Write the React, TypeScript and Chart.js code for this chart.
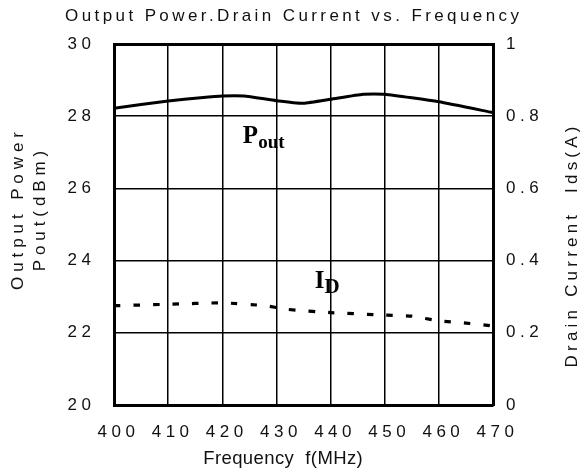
import { useEffect, useRef } from "react";
import { Chart, registerables } from "chart.js";

Chart.register(...registerables);

// ---------- text ----------
const chartTitle = "Output Power.Drain Current vs. Frequency";
const xAxisTitle = "Frequency  f(MHz)";
const leftAxisTitle = ["Output Power", "Pout(dBm)"];
const rightAxisTitle = "Drain Current  Ids(A)";

// ---------- ticks ----------
const frequencyTicks = [400, 410, 420, 430, 440, 450, 460, 470];
const powerTicks = [20, 22, 24, 26, 28, 30];
const currentTicks = [0, 0.2, 0.4, 0.6, 0.8, 1];

// ---------- series ----------
const poutFrequency = [400, 410, 416, 420, 424, 430, 435, 440, 446, 450, 460, 470];
const poutValues = [28.22, 28.42, 28.51, 28.56, 28.56, 28.43, 28.36, 28.47, 28.61, 28.61, 28.4, 28.1];

const idFrequency = [400, 410, 420, 428, 432, 440, 450, 455, 460, 465, 470];
const idValues = [0.275, 0.279, 0.283, 0.275, 0.265, 0.256, 0.249, 0.246, 0.233, 0.227, 0.219];

// curve labels, anchored in data coordinates (frequency, dBm)
const poutLabelAnchor = { x: 423.8, y: 27.26 };
const idLabelAnchor = { x: 437.1, y: 23.24 };

const SANS = '"Liberation Sans", Arial, Helvetica, sans-serif';
const SERIF = '"Liberation Serif", "Times New Roman", serif';
const INK = "#111";
const TICK_SPACING = 4.5;

function drawSpaced(
  ctx: CanvasRenderingContext2D,
  text: string,
  x: number,
  y: number,
  font: string,
  spacing: number,
  rotation: number
) {
  ctx.save();
  ctx.translate(x, y);
  ctx.rotate(rotation);
  ctx.font = font;
  (ctx as any).letterSpacing = "0px";
  const base = ctx.measureText(text).width;
  const w = base + (text.length - 1) * spacing;
  (ctx as any).letterSpacing = `${spacing}px`;
  ctx.fillStyle = INK;
  ctx.textAlign = "left";
  ctx.textBaseline = "alphabetic";
  ctx.fillText(text, -w / 2, 0);
  ctx.restore();
}

function drawSubscripted(
  ctx: CanvasRenderingContext2D,
  main: string,
  sub: string,
  x: number,
  y: number,
  mainSize: number,
  subSize: number,
  drop: number
) {
  ctx.save();
  (ctx as any).letterSpacing = "0px";
  ctx.fillStyle = "#000";
  ctx.textAlign = "left";
  ctx.textBaseline = "alphabetic";
  ctx.font = `bold ${mainSize}px ${SERIF}`;
  ctx.fillText(main, x, y);
  const mw = ctx.measureText(main).width;
  ctx.font = `bold ${subSize}px ${SERIF}`;
  ctx.fillText(sub, x + mw, y + drop);
  ctx.restore();
}

const textPlugin = {
  id: "textPlugin",
  beforeDraw(chart: any) {
    chart.ctx.letterSpacing = `${TICK_SPACING}px`;
  },
  afterDatasetsDraw(chart: any) {
    const { ctx, scales } = chart;
    drawSubscripted(
      ctx,
      "P",
      "out",
      scales.x.getPixelForValue(poutLabelAnchor.x),
      scales.y.getPixelForValue(poutLabelAnchor.y),
      25,
      19,
      5
    );
    drawSubscripted(
      ctx,
      "I",
      "D",
      scales.x.getPixelForValue(idLabelAnchor.x),
      scales.y.getPixelForValue(idLabelAnchor.y),
      25,
      21,
      5
    );
  },
  afterDraw(chart: any) {
    const { ctx } = chart;
    drawSpaced(ctx, chartTitle, 292, 20.5, `17px ${SANS}`, 3.4, 0);
    drawSpaced(ctx, xAxisTitle, 283, 464, `18.5px ${SANS}`, 0.4, 0);
    drawSpaced(ctx, leftAxisTitle[0], 22.5, 211, `17px ${SANS}`, 4.9, -Math.PI / 2);
    drawSpaced(ctx, leftAxisTitle[1], 45, 211, `17px ${SANS}`, 4.9, -Math.PI / 2);
    drawSpaced(ctx, rightAxisTitle, 577, 247, `17px ${SANS}`, 4.2, -Math.PI / 2);
    (ctx as any).letterSpacing = "0px";
  },
};

export default function App() {
  const canvasRef = useRef<HTMLCanvasElement | null>(null);

  useEffect(() => {
    const canvas = canvasRef.current;
    if (!canvas) return;

    const tickFont = { family: SANS, size: 17 };

    const chart = new Chart(canvas, {
      type: "line",
      data: {
        datasets: [
          {
            label: "Pout",
            data: poutFrequency.map((f, i) => ({ x: f, y: poutValues[i] })),
            yAxisID: "y",
            borderColor: "#000",
            borderWidth: 3,
            pointRadius: 0,
            tension: 0.15,
            fill: false,
          },
          {
            label: "ID",
            data: idFrequency.map((f, i) => ({ x: f, y: idValues[i] })),
            yAxisID: "y1",
            borderColor: "#000",
            borderWidth: 3.2,
            borderDash: [6.5, 13],
            borderCapStyle: "butt",
            pointRadius: 0,
            tension: 0.15,
            fill: false,
          },
        ],
      },
      options: {
        responsive: false,
        animation: false,
        devicePixelRatio: 1,
        layout: { padding: { top: 44, left: 0, right: 0, bottom: 0 } },
        plugins: {
          legend: { display: false },
          title: { display: false },
          tooltip: { enabled: false },
        },
        scales: {
          x: {
            type: "linear",
            min: 400,
            max: 470,
            afterBuildTicks: (scale: any) => {
              scale.ticks = frequencyTicks.map((value) => ({ value }));
            },
            afterFit: (scale: any) => {
              scale.height = 70;
            },
            grid: {
              color: "#000",
              lineWidth: 1.5,
              drawTicks: false,
            },
            border: { display: true, color: "#000", width: 3 },
            ticks: {
              font: tickFont,
              color: INK,
              padding: 17,
              maxRotation: 0,
              autoSkip: false,
              labelOffset: 4.5,
              callback: (v: any) => String(v),
            },
          },
          y: {
            type: "linear",
            position: "left",
            min: 20,
            max: 30,
            afterBuildTicks: (scale: any) => {
              scale.ticks = powerTicks.map((value) => ({ value }));
            },
            afterFit: (scale: any) => {
              scale.width = 114;
            },
            grid: {
              color: "#000",
              lineWidth: (c: any) => (c.tick && c.tick.value === 30 ? 3 : 1.5),
              drawTicks: false,
            },
            border: { display: true, color: "#000", width: 3 },
            ticks: {
              font: tickFont,
              color: INK,
              padding: 18.5,
              callback: (v: any) => String(v),
            },
          },
          y1: {
            type: "linear",
            position: "right",
            min: 0,
            max: 1,
            afterBuildTicks: (scale: any) => {
              scale.ticks = currentTicks.map((value) => ({ value }));
            },
            afterFit: (scale: any) => {
              scale.width = 91;
            },
            grid: { display: false, drawTicks: false },
            border: { display: true, color: "#000", width: 3 },
            ticks: {
              font: tickFont,
              color: INK,
              padding: 13,
              callback: (v: any) => String(v),
            },
          },
        },
      },
      plugins: [textPlugin],
    });

    return () => chart.destroy();
  }, []);

  return (
    <div style={{ position: "fixed", left: 0, top: 0, width: 584, height: 475, background: "#fff" }}>
      <canvas ref={canvasRef} width={584} height={475} />
    </div>
  );
}
